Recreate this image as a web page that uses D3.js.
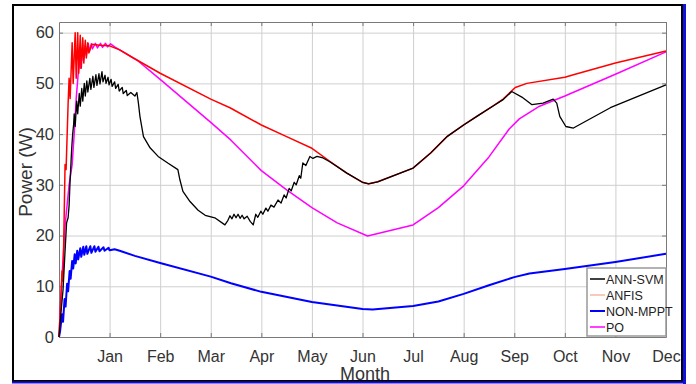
<!DOCTYPE html>
<html>
<head>
<meta charset="utf-8">
<script src="https://cdn.jsdelivr.net/npm/d3@7"></script>
<style>
  html, body { margin: 0; padding: 0; background: #fff; }
  svg { display: block; font-family: "Liberation Sans", Arial, sans-serif; }
</style>
</head>
<body>
<div id="chart"></div>
<script>
// month index on x (Jan = 1 ... Dec = 12), power in W on y
const monthLabels = ['Jan', 'Feb', 'Mar', 'Apr', 'May', 'Jun', 'Jul', 'Aug', 'Sep', 'Oct', 'Nov', 'Dec'];
const powerTicks = [0, 10, 20, 30, 40, 50, 60];
const seriesNames = ['ANN-SVM', 'ANFIS', 'NON-MPPT', 'PO'];

const annSvm = [
  [0, 0], [0.05, 6], [0.08, 9.3], [0.12, 17], [0.15, 22.5], [0.18, 23.5], [0.2, 26], [0.22, 31],
  [0.25, 37], [0.27, 40], [0.29, 42], [0.30, 44], [0.32, 41.5], [0.35, 46.5], [0.37, 44],
  [0.40, 48], [0.42, 45.5], [0.45, 49], [0.47, 46.5], [0.50, 50], [0.52, 47.5], [0.55, 50.5],
  [0.57, 48.3], [0.61, 51], [0.63, 48.8], [0.67, 51.4], [0.69, 49.2], [0.73, 51.7], [0.75, 49.6],
  [0.79, 51.9], [0.81, 49.9], [0.85, 52.3], [0.87, 50.3], [0.91, 51.6], [0.93, 50], [0.97, 51.2],
  [0.99, 49.7], [1.03, 50.8], [1.05, 49.4], [1.10, 50.3], [1.12, 49], [1.17, 49.8], [1.19, 48.5],
  [1.25, 49.2], [1.27, 48], [1.33, 48.6], [1.35, 47.6], [1.42, 48.2], [1.50, 47.5], [1.54, 48.2],
  [1.57, 46.1], [1.60, 43.5], [1.67, 39.5], [1.80, 37.3], [1.96, 35.6], [2.15, 34.3], [2.35, 33],
  [2.39, 31], [2.45, 28.7], [2.59, 26.7], [2.75, 25], [2.89, 24], [3.08, 23.5], [3.28, 22.1],
  [3.34, 23], [3.38, 23.9], [3.42, 23.3], [3.46, 24.2], [3.50, 23.5], [3.54, 24.2], [3.58, 23.4],
  [3.62, 24], [3.66, 23.3], [3.72, 23.8], [3.78, 22.8], [3.84, 22.1], [3.89, 24.2], [3.93, 23.6],
  [3.99, 24.8], [4.03, 24.2], [4.09, 25.4], [4.13, 24.8], [4.19, 26], [4.25, 25.6], [4.33, 27],
  [4.39, 26.4], [4.45, 28], [4.49, 27.4], [4.55, 29.3], [4.59, 28.8], [4.65, 30.5], [4.69, 30],
  [4.75, 31.8], [4.78, 31.3], [4.82, 34.3], [4.88, 33.8], [4.96, 35.6], [5.02, 35.2], [5.10, 35.6],
  [5.22, 35.3], [5.36, 34.5], [5.69, 32.3], [6.0, 30.5], [6.12, 30.2], [6.3, 30.6], [7.0, 33.3],
  [7.35, 36.3], [7.67, 39.5], [8.0, 41.8], [8.26, 43.5], [8.59, 45.6], [8.78, 46.8], [8.95, 48.4],
  [9.15, 47.3], [9.35, 45.8], [9.57, 46.1], [9.77, 46.9], [9.84, 46.1], [9.9, 43.5], [10.02, 41.5],
  [10.17, 41.2], [10.9, 45.2], [12, 49.7]
];

const anfis = [
  [0, 0], [0.06, 13], [0.08, 11], [0.12, 34], [0.14, 33], [0.18, 46], [0.20, 51], [0.22, 47],
  [0.26, 58], [0.28, 50], [0.32, 60], [0.34, 51], [0.37, 60], [0.39, 52], [0.42, 59.5], [0.44, 53],
  [0.47, 59], [0.49, 54], [0.52, 58.5], [0.54, 55], [0.57, 58], [0.59, 56], [0.65, 57.7], [0.8, 57.5],
  [1.0, 57.4], [1.2, 56.6], [1.47, 55], [2.0, 52], [3.0, 46.9], [3.38, 45.2], [4.0, 41.8],
  [4.5, 39.5], [5.0, 37.2], [5.36, 34.6], [5.69, 32.3], [6.0, 30.5], [6.12, 30.2], [6.3, 30.6],
  [7.0, 33.3], [7.35, 36.3], [7.67, 39.5], [8.0, 41.8], [8.26, 43.5], [8.59, 45.6], [8.78, 46.9],
  [9.02, 49.2], [9.25, 50], [10.0, 51.2], [10.17, 51.7], [11.0, 54], [12, 56.4]
];

const nonMppt = [
  [0, 0], [0.02, 1], [0.06, 4.5], [0.08, 3], [0.11, 7.5], [0.13, 6], [0.16, 10.5], [0.18, 9],
  [0.21, 13], [0.23, 11.5], [0.26, 15], [0.28, 13.5], [0.31, 16.3], [0.33, 14.5], [0.36, 17],
  [0.38, 15.3], [0.42, 17.5], [0.44, 15.8], [0.48, 17.8], [0.50, 16.2], [0.54, 17.9], [0.56, 16.4],
  [0.62, 17.9], [0.64, 16.6], [0.70, 17.9], [0.72, 16.8], [0.78, 17.8], [0.80, 16.9], [0.88, 17.7],
  [0.90, 17.0], [0.98, 17.6], [1.0, 17.1], [1.1, 17.3], [1.2, 17.0], [1.5, 16.0], [2.0, 14.6],
  [3.0, 11.9], [3.4, 10.6], [4.0, 8.9], [5.0, 6.9], [6.0, 5.5], [6.2, 5.4], [7.0, 6.1], [7.5, 7],
  [8.0, 8.5], [8.5, 10.2], [9.0, 11.8], [9.3, 12.5], [10.0, 13.4], [11.0, 14.8], [12, 16.4]
];

const po = [
  [0, 0], [0.06, 12], [0.12, 22], [0.2, 30], [0.26, 34], [0.3, 40], [0.34, 47], [0.38, 52],
  [0.40, 56], [0.42, 53], [0.46, 57], [0.48, 54.5], [0.52, 57.5], [0.54, 55.5], [0.58, 57.8],
  [0.60, 56.3], [0.64, 57.8], [0.66, 56.8], [0.72, 57.9], [0.76, 57.0], [0.82, 57.9], [0.86, 57.1],
  [0.92, 57.9], [0.96, 57.2], [1.02, 57.8], [1.1, 57.2], [1.54, 54.6], [2.0, 50.8], [3.0, 42.3],
  [3.4, 38.8], [4.0, 32.8], [4.5, 29], [5.0, 25.5], [5.5, 22.5], [6.1, 19.9], [7.0, 22.1],
  [7.5, 25.5], [8.0, 29.8], [8.5, 35.5], [8.9, 41], [9.1, 43], [9.5, 45.5], [10.0, 47.5],
  [11.0, 51.8], [12, 56.2]
];

const width = 696, height = 384;
const plot = { left: 59, right: 666, top: 22, bottom: 337 };

const svg = d3.select('#chart').append('svg')
  .attr('width', width)
  .attr('height', height);

// outer figure frame: black top/left, blue right/bottom
svg.append('rect')
  .attr('x', 13).attr('y', 5)
  .attr('width', 669).attr('height', 376)
  .attr('fill', '#fff')
  .attr('stroke', '#000')
  .attr('stroke-width', 2);
svg.append('line')
  .attr('x1', 684.5).attr('x2', 684.5).attr('y1', 4).attr('y2', 384)
  .attr('stroke', '#1010e0').attr('stroke-width', 3);
svg.append('line')
  .attr('x1', 12).attr('x2', 686).attr('y1', 382.5).attr('y2', 382.5)
  .attr('stroke', '#1010e0').attr('stroke-width', 2);

const x = d3.scaleLinear().domain([0, 12]).range([plot.left, plot.right]);
const y = d3.scaleLinear().domain([0, 62.1]).range([plot.bottom, plot.top]);

const monthTicks = d3.range(1, 13);

// grid
const grid = svg.append('g').attr('class', 'grid');
grid.selectAll('line.gx').data(monthTicks).enter().append('line')
  .attr('x1', d => x(d) + 0.5).attr('x2', d => x(d) + 0.5)
  .attr('y1', plot.top).attr('y2', plot.bottom)
  .attr('stroke', '#cfcfcf').attr('stroke-width', 1);
grid.selectAll('line.gy').data(powerTicks).enter().append('line')
  .attr('x1', plot.left).attr('x2', plot.right)
  .attr('y1', d => y(d) + 0.5).attr('y2', d => y(d) + 0.5)
  .attr('stroke', '#cfcfcf').attr('stroke-width', 1);

// axes (box with inward ticks on all sides)
const axisColor = '#7a7a7a';
const xAxis = d3.axisBottom(x).tickValues(monthTicks)
  .tickFormat(d => monthLabels[d - 1]).tickSizeInner(-4).tickSizeOuter(0).tickPadding(14);
const yAxis = d3.axisLeft(y).tickValues(powerTicks).tickSizeInner(-4).tickSizeOuter(0).tickPadding(5);

const gx = svg.append('g').attr('transform', `translate(0,${plot.bottom})`).call(xAxis);
const gy = svg.append('g').attr('transform', `translate(${plot.left},0)`).call(yAxis);
svg.append('g').attr('transform', `translate(0,${plot.top})`)
  .call(d3.axisTop(x).tickValues(monthTicks).tickFormat('').tickSizeInner(-4).tickSizeOuter(0));
svg.append('g').attr('transform', `translate(${plot.right},0)`)
  .call(d3.axisRight(y).tickValues(powerTicks).tickFormat('').tickSizeInner(-4).tickSizeOuter(0));

svg.selectAll('.domain, .tick line').attr('stroke', axisColor);
gx.selectAll('text').attr('font-size', 16).attr('fill', '#333')
  .attr('font-family', '"Liberation Sans", Arial, sans-serif');
gy.selectAll('text').attr('font-size', 16.5).attr('fill', '#333')
  .attr('font-family', '"Liberation Sans", Arial, sans-serif');

// the reference places "Month" right under the Jun label
svg.append('text')
  .attr('x', 365).attr('y', 380)
  .attr('text-anchor', 'middle')
  .attr('font-size', 18).attr('fill', '#333')
  .text('Month');

svg.append('text')
  .attr('transform', 'translate(32,172) rotate(-90)')
  .attr('text-anchor', 'middle')
  .attr('font-size', 19).attr('fill', '#333')
  .text('Power (W)');

// series
const line = d3.line().x(d => x(d[0])).y(d => y(d[1]));
const series = [
  { name: 'NON-MPPT', data: nonMppt, color: '#0000ff', w: 2 },
  { name: 'PO', data: po, color: '#ff00ff', w: 1.5 },
  { name: 'ANFIS', data: anfis, color: '#ff0000', w: 1.5 },
  { name: 'ANN-SVM', data: annSvm, color: '#000000', w: 1.3 }
];
svg.append('g').selectAll('path').data(series).enter().append('path')
  .attr('d', d => line(d.data))
  .attr('fill', 'none')
  .attr('stroke', d => d.color)
  .attr('stroke-width', d => d.w)
  .attr('stroke-linejoin', 'round');

// legend
const legendColors = { 'ANN-SVM': '#000000', 'ANFIS': '#f6b9a3', 'NON-MPPT': '#0000ff', 'PO': '#ff00ff' };
const legend = svg.append('g').attr('transform', 'translate(587,268)');
legend.append('rect')
  .attr('width', 79).attr('height', 68)
  .attr('fill', '#fff').attr('stroke', '#999').attr('stroke-width', 1.5);
const items = legend.selectAll('g.item').data(seriesNames).enter().append('g')
  .attr('transform', (d, i) => `translate(0,${11 + i * 16})`);
items.append('line')
  .attr('x1', 3).attr('x2', 18).attr('y1', 0).attr('y2', 0)
  .attr('stroke', d => legendColors[d])
  .attr('stroke-width', d => d === 'NON-MPPT' ? 2 : 1.5);
items.append('text')
  .attr('x', 19).attr('y', 4.5)
  .attr('font-size', 12.5).attr('fill', '#222')
  .text(d => d);
</script>
</body>
</html>
